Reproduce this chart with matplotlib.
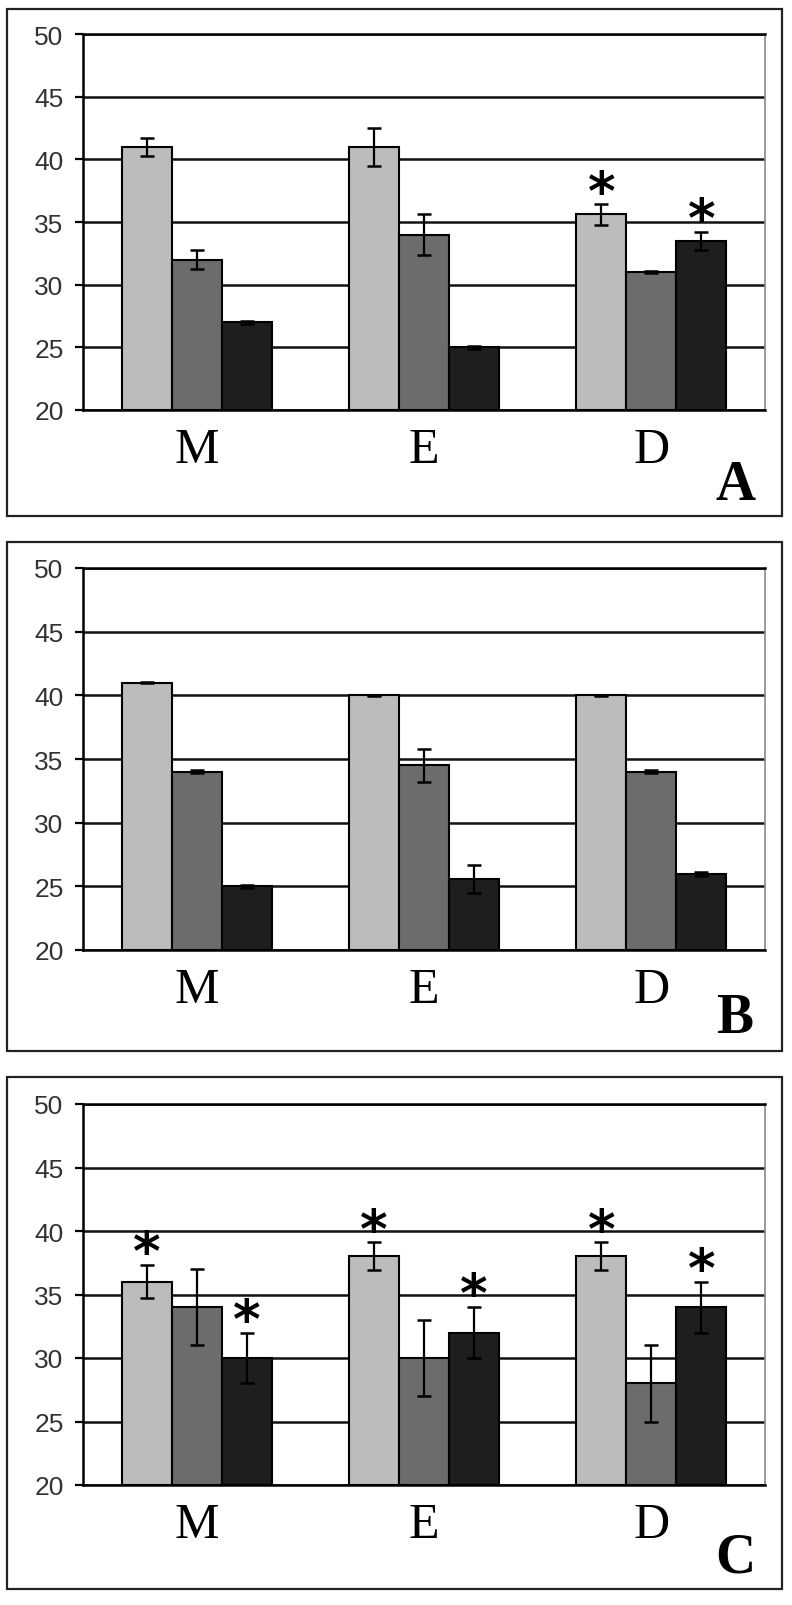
import matplotlib
matplotlib.use("Agg")
import matplotlib.pyplot as plt
from matplotlib.patches import Rectangle
import numpy as np

groups = ["M", "E", "D"]
panel_labels = ["A", "B", "C"]

# Panel A
a_light = [41.0, 41.0, 35.6]
a_light_err = [0.7, 1.5, 0.8]
a_mid = [32.0, 34.0, 31.0]
a_mid_err = [0.75, 1.6, 0.1]
a_dark = [27.0, 25.0, 33.5]
a_dark_err = [0.1, 0.1, 0.7]
a_stars = [(2, 0), (2, 2)]

# Panel B
b_light = [41.0, 40.0, 40.0]
b_light_err = [0.05, 0.05, 0.05]
b_mid = [34.0, 34.5, 34.0]
b_mid_err = [0.1, 1.3, 0.1]
b_dark = [25.0, 25.6, 26.0]
b_dark_err = [0.1, 1.1, 0.15]
b_stars = []

# Panel C
c_light = [36.0, 38.0, 38.0]
c_light_err = [1.3, 1.1, 1.1]
c_mid = [34.0, 30.0, 28.0]
c_mid_err = [3.0, 3.0, 3.0]
c_dark = [30.0, 32.0, 34.0]
c_dark_err = [2.0, 2.0, 2.0]
c_stars = [(0, 0), (0, 2), (1, 0), (1, 2), (2, 0), (2, 2)]

yticks = [20, 25, 30, 35, 40, 45, 50]

colors = ["#bcbcbc", "#6c6c6c", "#1e1e1e"]

W, H = 792, 1606
fig = plt.figure(figsize=(W / 100, H / 100), dpi=100)

panels = [
    ((a_light, a_mid, a_dark), (a_light_err, a_mid_err, a_dark_err), a_stars),
    ((b_light, b_mid, b_dark), (b_light_err, b_mid_err, b_dark_err), b_stars),
    ((c_light, c_mid, c_dark), (c_light_err, c_mid_err, c_dark_err), c_stars),
]
# pixel layout: (box_top, box_bottom, plot_top, plot_bottom, letter_baseline)
layout = [
    (10, 517, 35, 411, 500),
    (543, 1052, 569, 951, 1033),
    (1078, 1590, 1105, 1486, 1573),
]
px_left, px_right = 83, 765

for (series, errs, stars), (bt, bb, pt, pb, lb), lab in zip(panels, layout, panel_labels):
    # outer frame
    fig.patches.append(Rectangle((7 / W, 1 - bb / H), (782 - 7) / W, (bb - bt) / H,
                                 transform=fig.transFigure, fill=False,
                                 edgecolor="#222222", linewidth=1.6))
    ax = fig.add_axes([px_left / W, 1 - pb / H, (px_right - px_left) / W, (pb - pt) / H])
    x = np.arange(len(groups))
    bw = 0.22
    for i, (vals, er) in enumerate(zip(series, errs)):
        xs = x + (i - 1) * bw
        ax.bar(xs, np.array(vals) - 20, bottom=20, width=bw, color=colors[i],
               edgecolor="black", linewidth=1.5, zorder=3)
        ax.errorbar(xs, vals, yerr=er, fmt="none", ecolor="black",
                    elinewidth=1.6, capsize=5, capthick=1.8, zorder=4)
    for g, s in stars:
        xs = g + (s - 1) * bw
        top = series[s][g] + errs[s][g]
        ax.annotate("*", xy=(xs, top), xytext=(0, -3), textcoords="offset points",
                    ha="center", va="baseline", fontsize=38, fontweight="bold",
                    family="DejaVu Sans", color="black", zorder=5,
                    annotation_clip=False)
    ax.set_xlim(-0.5, 2.5)
    ax.set_ylim(20, 50)
    ax.set_yticks(yticks)
    ax.set_yticklabels([str(t) for t in yticks], fontsize=19,
                       family="Liberation Sans", color="#333333")
    ax.set_xticks(x)
    ax.set_xticklabels(groups, fontsize=36, family="Liberation Serif", color="black")
    ax.tick_params(axis="x", length=0, pad=12)
    ax.tick_params(axis="y", length=6, width=1.6, color="black", pad=8, direction="out")
    ax.yaxis.grid(True, color="#111111", linewidth=1.8)
    ax.set_axisbelow(True)
    for side in ["left", "bottom", "top"]:
        ax.spines[side].set_color("black")
        ax.spines[side].set_linewidth(1.8)
    ax.spines["right"].set_color("#888888")
    ax.spines["right"].set_linewidth(1.2)
    fig.text(735 / W, 1 - lb / H, lab, ha="center", va="baseline",
             fontsize=40, fontweight="bold", family="Liberation Serif", color="black")

fig.savefig("out.png", dpi=100, facecolor="white")
